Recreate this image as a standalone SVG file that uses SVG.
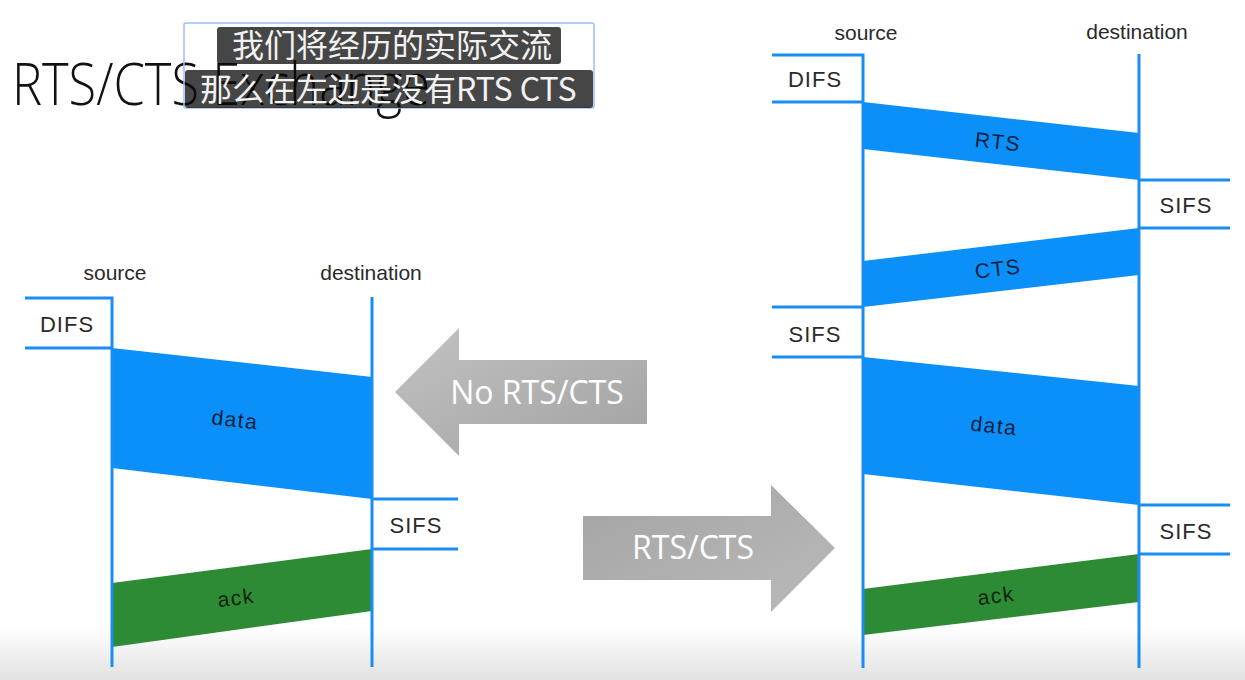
<svg xmlns="http://www.w3.org/2000/svg" width="1245" height="680" viewBox="0 0 1245 680">
  <defs>
    <style>
      .line { stroke: #1a8df2; stroke-width: 3; fill: none; }
      .blue { fill: #0a90f8; }
      .green { fill: #2e8b35; }
      .hdr { font-family: "Liberation Sans", Arial, sans-serif; font-size: 21px; fill: #2a2a2a; text-anchor: middle; }
      .ifs { font-family: "Liberation Sans", Arial, sans-serif; font-size: 22px; fill: #2a2a2a; text-anchor: middle; letter-spacing: 1px; }
      .band { font-family: "Liberation Sans", Arial, sans-serif; font-size: 21px; fill: #0d1f3c; text-anchor: middle; letter-spacing: 1.5px; }
      .bandg { font-family: "Liberation Sans", Arial, sans-serif; font-size: 21px; fill: #0f240f; text-anchor: middle; letter-spacing: 1.5px; }
      .arrowtxt { font-family: "Open Sans", "Liberation Sans", sans-serif; font-size: 32px; fill: #ffffff; text-anchor: middle; }
      .sub { font-family: "Noto Sans CJK SC", "Noto Sans", sans-serif; font-size: 32px; fill: #f2f2f2; }
      .subbox { fill: #080808; fill-opacity: 0.75; }
    </style>
    <linearGradient id="gl" x1="0" y1="0" x2="1" y2="1">
      <stop offset="0" stop-color="#c2c2c2"/>
      <stop offset="1" stop-color="#a2a2a2"/>
    </linearGradient>
    <linearGradient id="gr" x1="0" y1="0" x2="1" y2="1">
      <stop offset="0" stop-color="#a4a4a4"/>
      <stop offset="1" stop-color="#bababa"/>
    </linearGradient>
    <linearGradient id="bottom" x1="0" y1="0" x2="0" y2="1">
      <stop offset="0" stop-color="#e2e2e2" stop-opacity="0"/>
      <stop offset="1" stop-color="#e2e2e2" stop-opacity="1"/>
    </linearGradient>
  </defs>

  <rect x="0" y="0" width="1245" height="680" fill="#ffffff"/>
  <!-- bottom fade (behind drawing) -->
  <rect x="0" y="626" width="1245" height="54" fill="url(#bottom)"/>

  <!-- Title -->
  <g id="title">
    <text x="12" y="105" font-family="'Open Sans', 'Liberation Sans', sans-serif" font-weight="300" font-size="58" fill="#111111" textLength="418" lengthAdjust="spacingAndGlyphs">RTS/CTS Exchange</text>
  </g>

  <!-- Left diagram bands -->
  <g id="left-data">
    <polygon class="blue" points="112,348 372,377 372,499 112,468"/>
    <text class="band" transform="translate(235,420) rotate(6.4)" y="7">data</text>
  </g>
  <g id="left-ack">
    <polygon class="green" points="112,583 372,549 372,611 112,647"/>
    <text class="bandg" transform="translate(236,598) rotate(-7.4)" y="7">ack</text>
  </g>

  <!-- Right diagram bands -->
  <g id="right-rts">
    <polygon class="blue" points="863,102 1139,133 1139,180 863,149"/>
    <text class="band" transform="translate(998,142) rotate(6.4)" y="7">RTS</text>
  </g>
  <g id="right-cts">
    <polygon class="blue" points="863,261 1139,228 1139,275 863,307"/>
    <text class="band" transform="translate(998,269) rotate(-6.8)" y="7">CTS</text>
  </g>
  <g id="right-data">
    <polygon class="blue" points="863,357 1139,386 1139,505 863,474"/>
    <text class="band" transform="translate(994,426) rotate(6)" y="7">data</text>
  </g>
  <g id="right-ack">
    <polygon class="green" points="863,589 1139,554 1139,602 863,635"/>
    <text class="bandg" transform="translate(996,596) rotate(-7.2)" y="7">ack</text>
  </g>

  <!-- Connectors: lifelines and interval marks -->
  <g id="connectors">
    <polyline class="line" points="25,298 112,298 112,667"/>
    <line class="line" x1="25" y1="348" x2="112" y2="348"/>
    <line class="line" x1="372" y1="297" x2="372" y2="667"/>
    <line class="line" x1="372" y1="499" x2="458" y2="499"/>
    <line class="line" x1="372" y1="549" x2="458" y2="549"/>
    <polyline class="line" points="772,55 863,55 863,668"/>
    <line class="line" x1="772" y1="102" x2="863" y2="102"/>
    <line class="line" x1="772" y1="307" x2="863" y2="307"/>
    <line class="line" x1="772" y1="357" x2="863" y2="357"/>
    <line class="line" x1="1139" y1="54" x2="1139" y2="668"/>
    <line class="line" x1="1139" y1="180" x2="1230" y2="180"/>
    <line class="line" x1="1139" y1="228" x2="1230" y2="228"/>
    <line class="line" x1="1139" y1="505" x2="1230" y2="505"/>
    <line class="line" x1="1139" y1="554" x2="1230" y2="554"/>
  </g>

  <!-- Left labels -->
  <g id="left-source"><text class="hdr" x="115" y="280">source</text></g>
  <g id="left-destination"><text class="hdr" x="371" y="280">destination</text></g>
  <g id="left-difs"><text class="ifs" x="67" y="332">DIFS</text></g>
  <g id="left-sifs"><text class="ifs" x="416" y="533">SIFS</text></g>

  <!-- Right labels -->
  <g id="right-source"><text class="hdr" x="866" y="40">source</text></g>
  <g id="right-destination"><text class="hdr" x="1137" y="39">destination</text></g>
  <g id="right-difs"><text class="ifs" x="815" y="87">DIFS</text></g>
  <g id="right-sifs-1"><text class="ifs" x="1186" y="213">SIFS</text></g>
  <g id="right-sifs-2"><text class="ifs" x="815" y="342">SIFS</text></g>
  <g id="right-sifs-3"><text class="ifs" x="1186" y="539">SIFS</text></g>

  <!-- Big arrows -->
  <g id="arrow-no-rts">
    <polygon fill="url(#gl)" points="395,392 459,328 459,360 647,360 647,424 459,424 459,456"/>
    <text class="arrowtxt" x="537" y="404">No RTS/CTS</text>
  </g>
  <g id="arrow-rts">
    <polygon fill="url(#gr)" points="583,516 771,516 771,485 835,548 771,612 771,580 583,580"/>
    <text class="arrowtxt" x="693" y="559">RTS/CTS</text>
  </g>

  <!-- Subtitles (overlay on the title, as in the reference) -->
  <g id="subtitles">
    <rect x="184" y="23" width="410" height="85" fill="none" stroke="#9dbff5" stroke-width="1.5" rx="2"/>
    <rect class="subbox" x="217" y="27" width="344" height="37" rx="3"/>
    <rect class="subbox" x="185" y="70" width="408" height="38" rx="3"/>
    <text class="sub" x="232" y="57">我们将经历的实际交流</text>
    <text class="sub" x="200" y="101">那么在左边是没有RTS CTS</text>
  </g>
</svg>
